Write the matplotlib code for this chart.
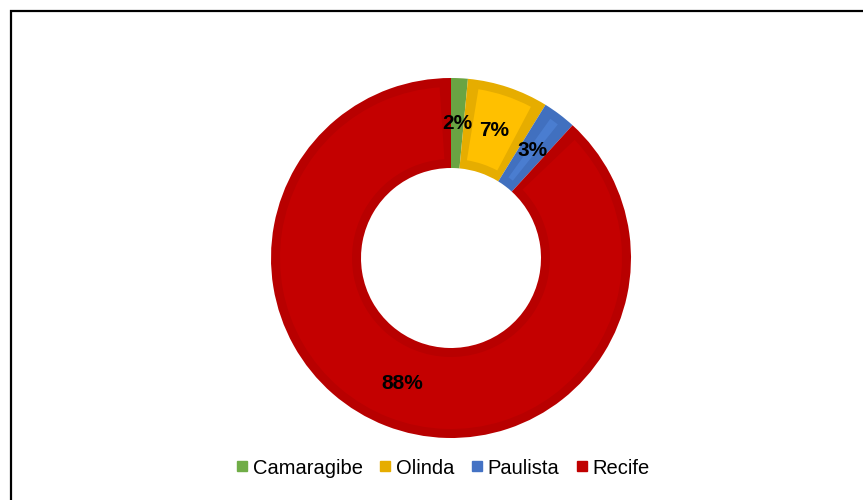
import matplotlib.pyplot as plt
from matplotlib.patches import Wedge, Rectangle
from matplotlib.lines import Line2D

# data
cities = ['Camaragibe', 'Olinda', 'Paulista', 'Recife']
shares = [1.5, 7.3, 3.0, 88.2]
edge_colors = ['#6AA443', '#E6AD00', '#4170BF', '#B80000']
fill_colors = ['#70AD47', '#FFC000', '#4A7DD0', '#C40000']
legend_colors = ['#70AD47', '#E6AD00', '#4472C4', '#C00000']

fig = plt.figure(figsize=(8.63, 5), dpi=100)
plt.rcParams['font.family'] = ['Liberation Sans', 'DejaVu Sans']

# outer frame of the chart area (runs off the right/bottom)
fig.patches.append(Rectangle((11 / 863, -0.1), 1.2, 1 - 11 / 500 + 0.1,
                             transform=fig.transFigure, fill=False,
                             edgecolor='black', linewidth=1.6))

ax = fig.add_axes([(451 - 180) / 863, 62 / 500, 360 / 863, 360 / 500])
wedges, texts, autotexts = ax.pie(
    shares, colors=edge_colors, startangle=90, counterclock=False,
    radius=1.0, wedgeprops=dict(width=0.5, linewidth=0),
    autopct='%.0f%%', pctdistance=0.75,
    textprops=dict(fontsize=15, fontweight='bold', color='black'))

# lighter inset inside each wedge (gives the bevelled look)
inset = 0.05
for w, fc in zip(wedges, fill_colors):
    t1, t2 = w.theta1, w.theta2
    span = t2 - t1
    dang = inset / 0.75 * 57.3
    if span > 2 * dang + 2:
        ax.add_patch(Wedge((0, 0), 1.0 - inset, t1 + dang, t2 - dang,
                           width=0.5 - 2 * inset, facecolor=fc, linewidth=0,
                           zorder=w.get_zorder() + 0.1))
for t in autotexts:
    t.set_zorder(5)

ax.set_xlim(-1, 1)
ax.set_ylim(-1, 1)
ax.set_aspect('equal')
ax.axis('off')

handles = [Line2D([], [], marker='s', linestyle='none', markersize=7.5,
                  markerfacecolor=c, markeredgecolor=c) for c in legend_colors]
fig.legend(handles, cities, loc='center', bbox_to_anchor=(443 / 863, 1 - 468 / 500),
           ncol=4, frameon=False, fontsize=14.5, handlelength=0.55,
           handletextpad=0.25, columnspacing=0.85)

fig.savefig('out.png', dpi=100, facecolor='white')
